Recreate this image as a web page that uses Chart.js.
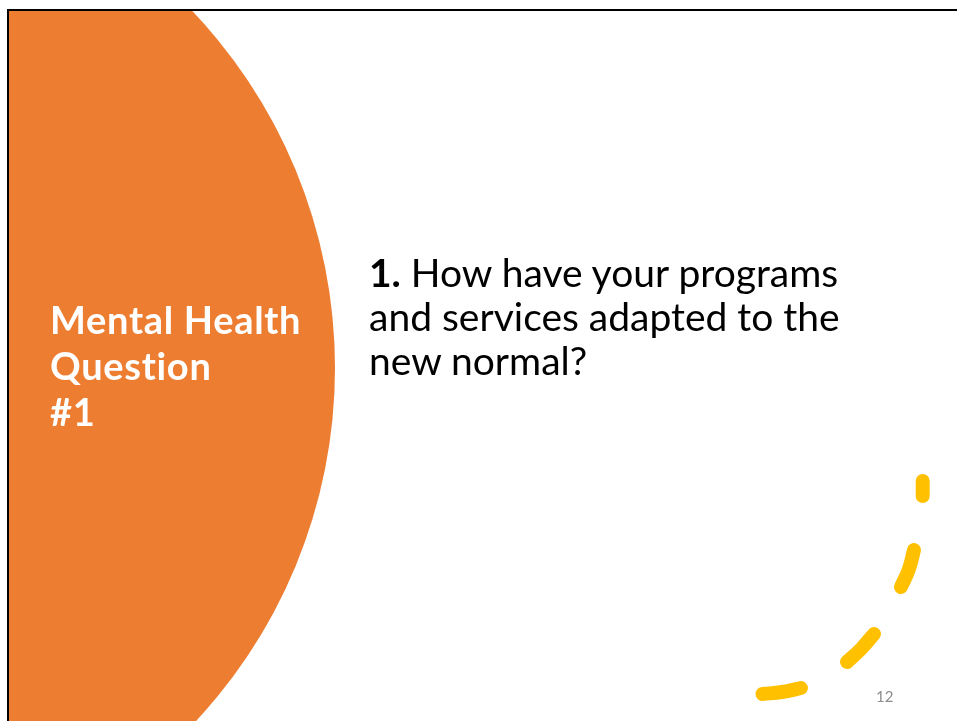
<!DOCTYPE html>
<html>
<head>
<meta charset="utf-8">
<script src="https://cdn.jsdelivr.net/npm/chart.js"></script>
<style>
  html, body { margin: 0; padding: 0; background: #fff; }
  #slide { position: relative; width: 957px; height: 721px; overflow: hidden; background: #fff; }
  #frame { position: absolute; left: 7px; top: 9px; width: 950px; height: 712px;
           border-top: 2px solid #000; border-left: 2px solid #000; box-sizing: border-box; }
  #wrap { position: absolute; left: 9px; top: 11px; width: 948px; height: 710px; }
  .t { position: absolute; font-family: Lato, "Noto Sans", sans-serif; white-space: nowrap; margin: 0;
       font-variant-ligatures: none; }
  #side { left: 50px; top: 296px; color: #fff; font-weight: 700; font-size: 38px; line-height: 46px; letter-spacing: 0.7px; }
  #question { left: 369px; top: 250px; color: #000; font-weight: 400; font-size: 39px; line-height: 44px; }
  #pagenum { left: 876px; top: 688px; color: #8c8c8c; font-size: 15px; line-height: 16px; }
</style>
</head>
<body>
<div id="slide">
  <div id="wrap"><canvas id="c"></canvas></div>
  <div id="frame"></div>
  <div class="t" id="side"></div>
  <div class="t" id="question"></div>
  <div class="t" id="pagenum"></div>
</div>
<script>
// ---- Slide text ----
const sideTitleLines = ["Mental Health", "Question", "#1"];
const questionNumber = "1.";
const questionLines = ["How have your programs", "and services adapted to the", "new normal?"];
const pageNumber = "12";

// ---- Decorative orange disc (centre x, centre y, radius) ----
const discX = [-183];
const discY = [368];
const discR = [518];

// ---- Yellow dashed arc: dash centre-line points (null = gap between dashes) ----
const arcX = [922.7, 922.7, 922.7, null, 914, 909, 901, null, 874, 861, 847, null, 801, 782, 762.5];
const arcY = [481,   488.5, 496,   null, 550, 569, 587, null, 634, 649, 662, null, 688, 692, 694];

// ---- Build text ----
document.getElementById('side').innerHTML = sideTitleLines.join('<br>');
document.getElementById('question').innerHTML =
  '<b>' + questionNumber + '</b> ' + questionLines.join('<br>');
document.getElementById('pagenum').textContent = pageNumber;

// ---- Chart ----
const discData = discX.map((x, i) => ({ x: x, y: discY[i], r: discR[i] }));
const arcData = arcX.map((x, i) => ({ x: x === null ? NaN : x, y: arcY[i] }));

new Chart(document.getElementById('c'), {
  type: 'bubble',
  data: {
    datasets: [
      { type: 'line', label: 'arc', data: arcData, borderColor: '#FFC000', borderWidth: 14,
        borderCapStyle: 'round', borderJoinStyle: 'round', pointRadius: 0, tension: 0.4,
        spanGaps: false, fill: false, order: 0 },
      { label: 'disc', data: discData, backgroundColor: '#ED7D31', borderWidth: 0, order: 1 }
    ]
  },
  options: {
    responsive: true, maintainAspectRatio: false, animation: false, events: [],
    layout: { padding: 0, autoPadding: false },
    plugins: { legend: { display: false }, tooltip: { enabled: false } },
    scales: {
      x: { type: 'linear', min: 9, max: 957, display: false },
      y: { type: 'linear', min: 11, max: 721, reverse: true, display: false }
    }
  }
});
</script>
</body>
</html>
